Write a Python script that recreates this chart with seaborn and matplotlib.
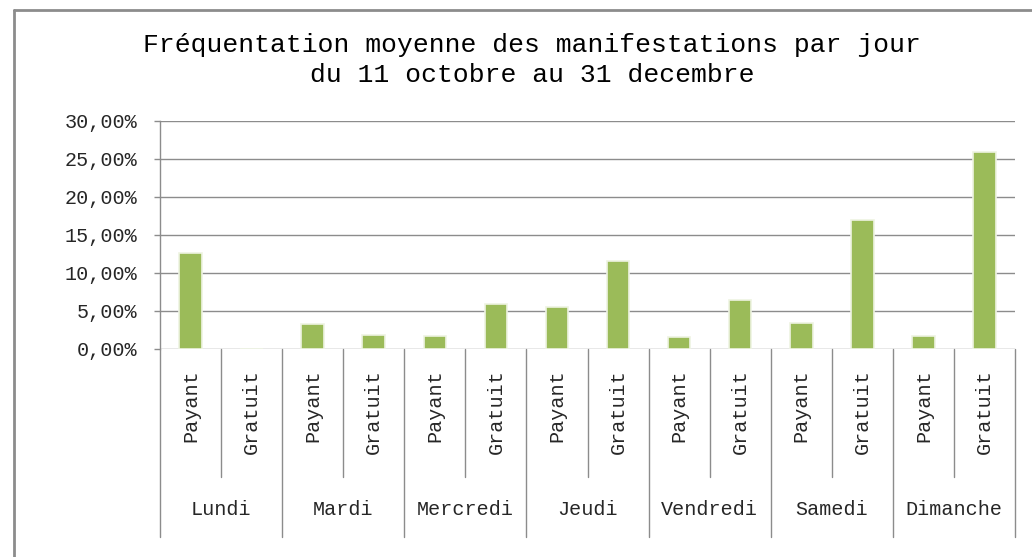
import matplotlib
matplotlib.use("Agg")
import matplotlib.pyplot as plt
import matplotlib.transforms as mtransforms
from matplotlib.lines import Line2D
from matplotlib.ticker import FuncFormatter
import seaborn as sns
import pandas as pd

# ---- data ----
days = ["Lundi", "Mardi", "Mercredi", "Jeudi", "Vendredi", "Samedi", "Dimanche"]
types = ["Payant", "Gratuit"]
payant = [12.63, 3.25, 1.71, 5.58, 1.54, 3.42, 1.71]
gratuit = [0.0, 1.84, 5.88, 11.58, 6.50, 16.97, 25.92]
yticks = [0, 5, 10, 15, 20, 25, 30]
title1 = "Fréquentation moyenne des manifestations par jour"
title2 = "du 11 octobre au 31 decembre"

rows = []
for d, p, g in zip(days, payant, gratuit):
    rows.append({"key": f"{d}|Payant", "day": d, "type": "Payant", "value": p})
    rows.append({"key": f"{d}|Gratuit", "day": d, "type": "Gratuit", "value": g})
df = pd.DataFrame(rows)
order = list(df["key"])

sns.set_style("white")
plt.rcParams["font.family"] = ["Liberation Mono", "DejaVu Sans Mono"]

W, H = 1032, 557
fig = plt.figure(figsize=(W / 100, H / 100), dpi=100)
ax = fig.add_axes([160 / W, (H - 349) / H, (1015 - 160) / W, (349 - 121) / H])

grid_c = "#8C8C8C"
sns.barplot(data=df, x="key", y="value", order=order, color="#9BBB59",
            saturation=1, width=0.37, edgecolor="#EEF3E2", linewidth=1.2,
            ax=ax, zorder=3)

ax.set_xlim(-0.5, len(order) - 0.5)
ax.set_ylim(0, 30)
ax.set_yticks(yticks)
ax.yaxis.set_major_formatter(FuncFormatter(lambda v, p: f"{v:.2f}".replace(".", ",") + "%"))
ax.yaxis.grid(True, color=grid_c, linewidth=1, zorder=0)
ax.set_axisbelow(True)
for s in ["top", "right", "bottom"]:
    ax.spines[s].set_visible(False)
ax.spines["left"].set_color(grid_c)
ax.spines["left"].set_linewidth(1)
ax.tick_params(axis="y", which="major", left=True, length=4.3, width=1,
               color=grid_c, pad=12, labelsize=14.5, labelcolor="#262626")
ax.tick_params(axis="x", bottom=False, labelbottom=False)
ax.set_xlabel("")
ax.set_ylabel("")

trans = mtransforms.blended_transform_factory(ax.transData, ax.transAxes)
# category separators and labels
n = len(order)
for i in range(n + 1):
    xpos = i - 0.5
    ybot = -0.825 if i % 2 == 0 else -0.561
    ax.add_line(Line2D([xpos, xpos], [0, ybot], transform=trans, color=grid_c,
                       linewidth=1, clip_on=False))
for i, k in enumerate(order):
    t = k.split("|")[1]
    ax.text(i, -0.09, t, transform=trans, rotation=90, ha="center", va="top",
            fontsize=14.5, color="#262626")
for j, d in enumerate(days):
    ax.text(2 * j + 0.5, -0.706, d, transform=trans, ha="center", va="center",
            fontsize=14.5, color="#262626")

# titles
fig.text(532 / W, 1 - 45 / H, title1, ha="center", va="center", fontsize=19,
         color="#000000")
fig.text(532 / W, 1 - 75 / H, title2, ha="center", va="center", fontsize=19,
         color="#000000")

# outer chart border (left and top visible)
fig.add_artist(Line2D([14 / W, 14 / W], [0, 1 - 10 / H], transform=fig.transFigure,
                      color="#8C8C8C", linewidth=2))
fig.add_artist(Line2D([14 / W, 1], [1 - 10 / H, 1 - 10 / H], transform=fig.transFigure,
                      color="#8C8C8C", linewidth=2))

fig.savefig("out.png", dpi=100, facecolor="white")
